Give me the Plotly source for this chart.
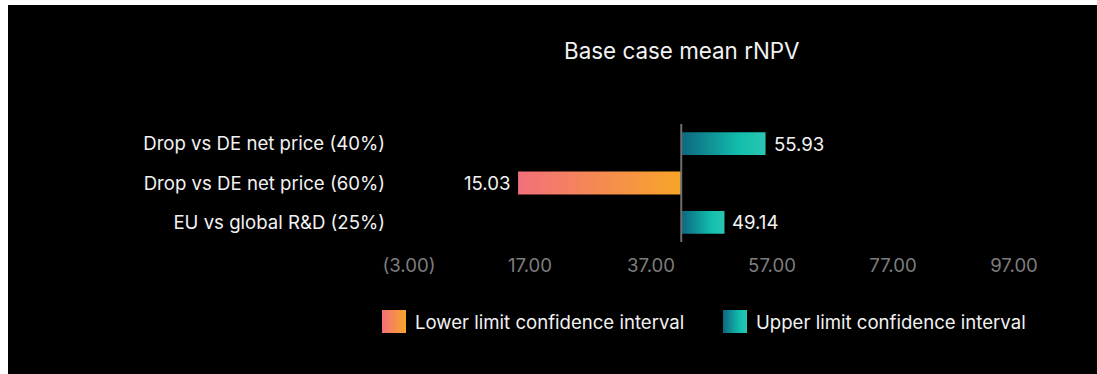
import plotly.graph_objects as go

# ---- data ----
categories = ["Drop vs DE net price (40%)", "Drop vs DE net price (60%)", "EU vs global R&D (25%)"]
values = [55.93, 15.03, 49.14]
base_value = 42.0
tick_values = [-3, 17, 37, 57, 77, 97]
tick_labels = ["(3.00)", "17.00", "37.00", "57.00", "77.00", "97.00"]
legend_names = ["Lower limit confidence interval", "Upper limit confidence interval"]
title_text = "Base case mean rNPV"

# ---- styles ----
W, H = 1097, 374
FONT = "Inter"
FS = 18.6
TXT = "#f2f2f2"
lower_scale = [[0, "#f2707a"], [1, "#f8a529"]]
upper_scale = [[0, "#0d6680"], [0.7, "#12bfad"], [1, "#2ac6b2"]]
half = 0.29


def px_x(p):
    return p / W


def px_y(p):
    return 1 - p / H


fig = go.Figure()

# black card (page offset)
fig.add_shape(
    type="rect", xref="paper", yref="paper",
    x0=px_x(8), x1=1, y0=0, y1=px_y(5),
    fillcolor="#000000", line=dict(width=0), layer="below",
)

for i, (cat, v) in enumerate(zip(categories, values)):
    lo, hi = min(v, base_value), max(v, base_value)
    scale = lower_scale if v < base_value else upper_scale
    fig.add_trace(go.Scatter(
        x=[lo, hi, hi, lo, lo],
        y=[i - half, i - half, i + half, i + half, i - half],
        mode="none", fill="toself",
        fillgradient=dict(type="horizontal", colorscale=scale),
        showlegend=False, hoverinfo="skip",
    ))
    fig.add_annotation(
        x=v, y=i, xref="x", yref="y",
        text=f"{v:.2f}", showarrow=False,
        xanchor="left" if v >= base_value else "right",
        xshift=6 if v >= base_value else -6,
        font=dict(family=FONT, size=FS, color=TXT),
    )

# custom legend (gradient swatches) in a hidden helper axis measured in pixels
leg_left, leg_right = 382, 1040
sw_w = 24
item_x = [0, 341]
for j, (name, scale) in enumerate(zip(legend_names, [lower_scale, upper_scale])):
    x0 = item_x[j]
    fig.add_trace(go.Scatter(
        x=[x0, x0 + sw_w, x0 + sw_w, x0, x0],
        y=[0, 0, 1, 1, 0],
        xaxis="x2", yaxis="y2",
        mode="none", fill="toself",
        fillgradient=dict(type="horizontal", colorscale=scale),
        showlegend=False, hoverinfo="skip",
    ))
    fig.add_annotation(
        x=x0 + sw_w + 7, y=0.5, xref="x2", yref="y2",
        text=name, showarrow=False, xanchor="left", yanchor="middle",
        font=dict(family=FONT, size=FS, color=TXT),
    )

fig.add_shape(
    type="line", xref="x", yref="y domain",
    x0=base_value, x1=base_value, y0=0, y1=1,
    line=dict(color="#6e6e6e", width=2), layer="above",
)

fig.add_annotation(
    x=px_x(682), y=px_y(51), xref="paper", yref="paper",
    text=title_text, showarrow=False, xanchor="center", yanchor="middle",
    font=dict(family=FONT, size=22.4, color=TXT),
)

fig.update_layout(
    width=W, height=H,
    margin=dict(l=0, r=0, t=0, b=0, autoexpand=False),
    paper_bgcolor="#ffffff", plot_bgcolor="rgba(0,0,0,0)",
    font=dict(family=FONT, color=TXT),
    showlegend=False,
    xaxis=dict(
        domain=[px_x(409), px_x(1014)],
        range=[tick_values[0], tick_values[-1]],
        tickvals=tick_values, ticktext=tick_labels,
        showgrid=False, zeroline=False, showline=False, ticks="",
        tickfont=dict(family=FONT, size=FS, color="#7d7d7d"),
        ticklabelstandoff=10, fixedrange=True, automargin=False,
    ),
    yaxis=dict(
        domain=[px_y(242), px_y(124)],
        range=[len(categories) - 0.5, -0.5],
        tickvals=list(range(len(categories))), ticktext=categories,
        showgrid=False, zeroline=False, showline=False, ticks="",
        tickfont=dict(family=FONT, size=FS, color=TXT),
        ticklabelstandoff=23, fixedrange=True, automargin=False,
    ),
    xaxis2=dict(
        domain=[px_x(leg_left), px_x(leg_right)],
        range=[0, leg_right - leg_left], visible=False, fixedrange=True,
        anchor="y2", automargin=False,
    ),
    yaxis2=dict(
        domain=[px_y(333), px_y(310)],
        range=[0, 1], visible=False, fixedrange=True,
        anchor="x2", automargin=False,
    ),
)

fig.write_html("out.html", config={"displayModeBar": False})
